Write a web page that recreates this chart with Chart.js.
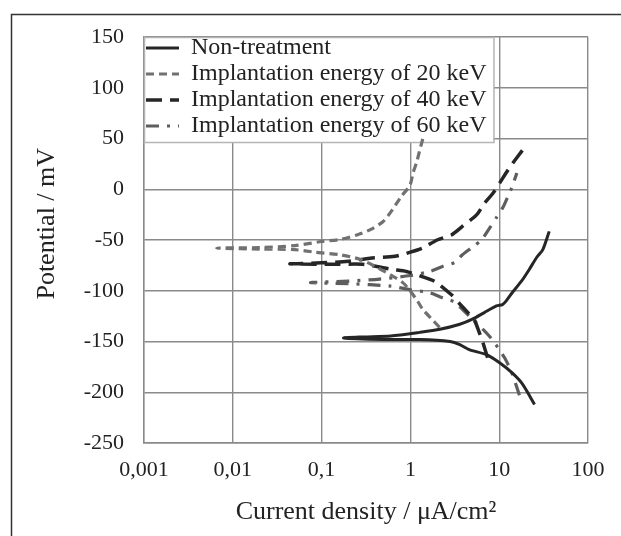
<!DOCTYPE html>
<html>
<head>
<meta charset="utf-8">
<script src="https://cdn.jsdelivr.net/npm/chart.js@4/dist/chart.umd.min.js"></script>
<style>
  html, body { margin: 0; padding: 0; background: #fff; }
  #wrap { width: 621px; height: 536px; }
</style>
</head>
<body>
<div id="wrap"><canvas id="chart7"></canvas></div>
<script>
// axis ticks
const xTicks = [0.001, 0.01, 0.1, 1, 10, 100];
const xTickLabels = ['0,001', '0,01', '0,1', '1', '10', '100'];
const yTicks = [-250, -200, -150, -100, -50, 0, 50, 100, 150];

const seriesNames = [
  'Non-treatment',
  'Implantation energy of 20 keV',
  'Implantation energy of 40 keV',
  'Implantation energy of 60 keV'
];

// each curve: cathodic branch (read from its end back to Ecorr), then anodic branch
const nonCurrent = [25, 18.3, 14, 10.1, 7.2, 4.6, 3.6, 2.8, 1.27, 0.5, 0.177, 0.3, 0.6, 1.27, 2.15, 3.6, 5.0, 6.8, 9.3, 10.9, 12, 14, 17.8, 21.8, 26.5, 31, 36.6];
const nonPotential = [-212, -192, -181, -171, -163, -158, -153, -150, -148, -148, -146.5, -145.5, -144.5, -141, -138, -133, -128, -121.5, -115, -113.6, -110, -102, -90.6, -79, -67, -59.5, -41.5];

const e20Current = [2.13, 1.7, 1.37, 1.2, 0.99, 0.82, 0.59, 0.4, 0.27, 0.16, 0.084, 0.05, 0.02, 0.0066, 0.02, 0.05, 0.1, 0.16, 0.25, 0.35, 0.49, 0.63, 0.79, 0.99, 1.07, 1.17, 1.28, 1.4];
const e20Potential = [-136, -127, -118, -110, -100, -92, -84, -76, -69, -64.5, -62, -59.5, -59, -58, -57.5, -55.5, -51.5, -49.5, -45, -40, -32, -20, -7, 4, 16, 26, 39, 52];

const e40Current = [7.4, 6.6, 5.9, 5.2, 4.5, 3.6, 2.9, 1.9, 1.35, 0.9, 0.63, 0.29, 0.15, 0.044, 0.1, 0.2, 0.35, 0.67, 1, 1.37, 2, 2.9, 3.8, 5.6, 6.8, 8.5, 10.1, 13, 18.5];
const e40Potential = [-166, -152, -140, -128, -122, -113, -104, -91, -86, -81, -79, -74, -74, -73.5, -72.5, -71, -68, -66, -62, -58, -50, -45, -37, -25, -14, -4, 6, 21, 39];

const e60Current = [16.9, 14, 11.5, 7.8, 5, 3.1, 2.3, 1.66, 1, 0.6, 0.35, 0.2, 0.075, 0.2, 0.45, 1, 1.66, 2.3, 3.2, 3.8, 5, 6.3, 7.7, 9.3, 11, 12.4, 13.9, 15.8];
const e60Potential = [-203, -182, -166, -145, -128, -111, -107, -102, -99, -95.5, -94, -93, -92, -90.5, -88.5, -85, -81, -76, -72, -65, -57, -50, -39, -28, -18, -8, 2, 16];

const toPoints = (xs, ys) => xs.map((x, i) => ({ x: x, y: ys[i] }));

const serif = 'Liberation Serif';
const ink = '#222';
const gridGrey = '#8a8a8a';

// outer frame of the figure + white page
const framePlugin = {
  id: 'frame',
  beforeDraw(chart) {
    const c = chart.ctx;
    c.save();
    c.fillStyle = '#fff';
    c.fillRect(0, 0, chart.width, chart.height);
    c.strokeStyle = '#333';
    c.lineWidth = 1.5;
    c.beginPath();
    c.moveTo(11.5, chart.height);
    c.lineTo(11.5, 14.5);
    c.lineTo(chart.width, 14.5);
    c.stroke();
    c.restore();
  }
};

// legend sits in the top-left corner of the plot, on a white boxed background
const legendBoxPlugin = {
  id: 'legendBox',
  afterLayout(chart) {
    const L = chart.legend, a = chart.chartArea;
    L.left = a.left; L.top = a.top - 3;
    L.right = a.right; L.bottom = a.bottom;
    L.adjustHitBoxes();
  },
  beforeDatasetsDraw(chart) {
    const L = chart.legend, a = chart.chartArea, c = chart.ctx;
    const pad = L.options.labels.padding;
    const fs = L.options.labels.font.size;
    const n = L.legendItems.length;
    const w = pad + L.columnSizes[0].width + 7;
    const h = n * (fs + pad) + 1;
    c.save();
    c.fillStyle = '#fff';
    c.fillRect(a.left, a.top, w, h);
    c.strokeStyle = '#b5b5b5';
    c.lineWidth = 1.5;
    c.strokeRect(a.left + 0.5, a.top + 0.5, w, h);
    c.restore();
    L.draw();
  }
};

const ctx = document.getElementById('chart7').getContext('2d');
new Chart(ctx, {
  type: 'scatter',
  data: {
    datasets: [
      {
        label: seriesNames[0],
        data: toPoints(nonCurrent, nonPotential),
        borderColor: '#262626',
        borderWidth: 3,
        tension: 0.25
      },
      {
        label: seriesNames[1],
        data: toPoints(e20Current, e20Potential),
        borderColor: '#717171',
        borderWidth: 3.2,
        borderDash: [8, 5],
        tension: 0.25
      },
      {
        label: seriesNames[2],
        data: toPoints(e40Current, e40Potential),
        borderColor: '#262626',
        borderWidth: 3.5,
        borderDash: [16, 8],
        tension: 0.25
      },
      {
        label: seriesNames[3],
        data: toPoints(e60Current, e60Potential),
        borderColor: '#5e5e5e',
        borderWidth: 3.2,
        borderDash: [13, 8, 3, 8],
        tension: 0.25
      }
    ]
  },
  options: {
    responsive: true,
    maintainAspectRatio: false,
    animation: false,
    showLine: true,
    elements: { point: { radius: 0, hoverRadius: 0 } },
    layout: { padding: { left: 0, top: 37, right: 33, bottom: 0 } },
    plugins: {
      tooltip: { enabled: false },
      legend: {
        position: 'chartArea',
        align: 'start',
        labels: {
          usePointStyle: true,
          pointStyle: 'line',
          pointStyleWidth: 33,
          padding: 2,
          color: ink,
          font: { family: serif, size: 24 },
          generateLabels: (chart) =>
            Chart.defaults.plugins.legend.labels.generateLabels(chart).map((item) => {
              const ds = chart.data.datasets[item.datasetIndex];
              item.lineDash = ds.borderDash || [];
              item.lineWidth = ds.borderWidth;
              item.strokeStyle = ds.borderColor;
              return item;
            })
        }
      }
    },
    scales: {
      x: {
        type: 'logarithmic',
        min: 0.001,
        max: 100,
        afterBuildTicks: (scale) => { scale.ticks = xTicks.map(v => ({ value: v })); },
        afterFit: (scale) => { scale.height = 93; },
        ticks: {
          autoSkip: false,
          maxRotation: 0,
          padding: 14,
          color: ink,
          font: { family: serif, size: 22 },
          callback: (v) => xTickLabels[xTicks.indexOf(v)]
        },
        grid: { color: gridGrey, lineWidth: 1.4, drawTicks: false },
        border: { color: gridGrey, width: 1.4 },
        title: {
          display: true,
          text: 'Current density / μA/cm²',
          color: ink,
          font: { family: serif, size: 26 },
          padding: { top: 0, bottom: 8 }
        }
      },
      y: {
        min: -250,
        max: 150,
        afterBuildTicks: (scale) => { scale.ticks = yTicks.map(v => ({ value: v })); },
        afterFit: (scale) => { scale.width = 144; },
        ticks: {
          padding: 20,
          color: ink,
          font: { family: serif, size: 22 },
          callback: (v) => String(v)
        },
        grid: { color: gridGrey, lineWidth: 1.4, drawTicks: false },
        border: { color: gridGrey, width: 1.4 },
        title: {
          display: true,
          text: '     Potential / mV',
          color: ink,
          font: { family: serif, size: 26 },
          padding: { top: 32, bottom: 0 }
        }
      }
    }
  },
  plugins: [framePlugin, legendBoxPlugin]
});
</script>
</body>
</html>
